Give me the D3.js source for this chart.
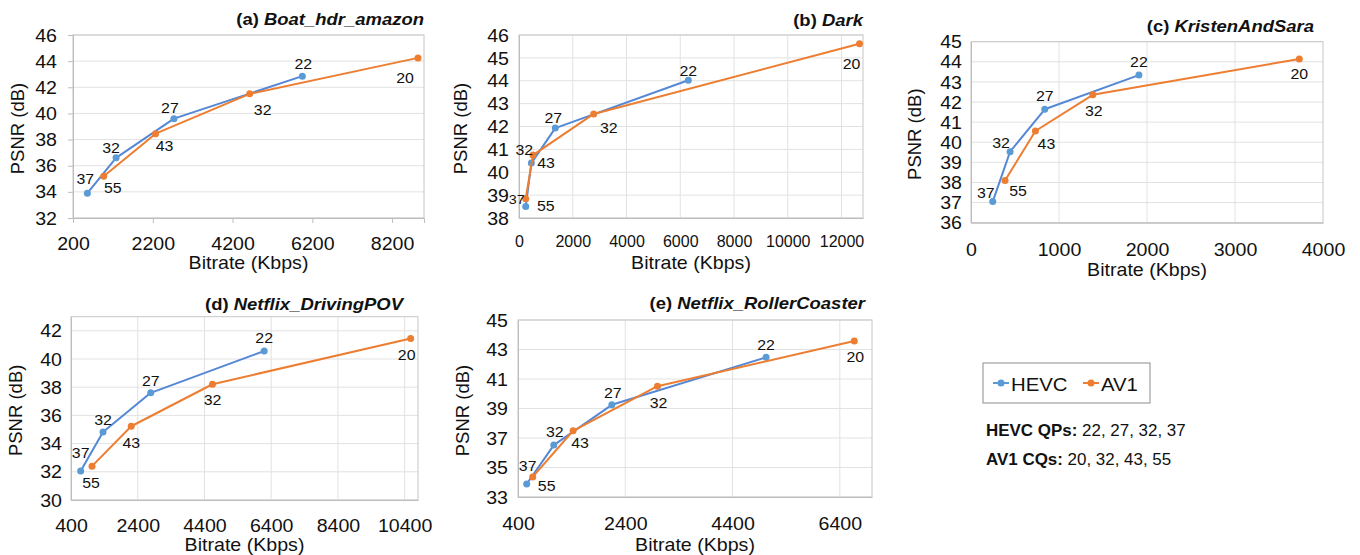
<!DOCTYPE html>
<html>
<head>
<meta charset="utf-8">
<script src="https://cdnjs.cloudflare.com/ajax/libs/d3/7.8.5/d3.min.js"></script>
<style>
  body { margin: 0; background: #fff; }
  svg { display: block; font-family: "Liberation Sans", Arial, Helvetica, sans-serif; }
</style>
</head>
<body>
<svg id="chart" width="1360" height="555"></svg>
<script>
// ---- data ----
var seriesNames = ['HEVC', 'AV1'];
var hevcQPs = [37, 32, 27, 22];
var av1CQs = [55, 43, 32, 20];

var boatHevcRate = [560, 1280, 2730, 5950];
var boatHevcPsnr = [33.9, 36.6, 39.6, 42.85];
var boatAv1Rate = [970, 2270, 4630, 8850];
var boatAv1Psnr = [35.2, 38.45, 41.5, 44.25];
var boatXTicks = [200, 2200, 4200, 6200, 8200];
var boatYTicks = [32, 34, 36, 38, 40, 42, 44, 46];
var boatXDomain = [200, 9000];
var boatYDomain = [32, 46];

var darkHevcRate = [250, 460, 1350, 6300];
var darkHevcPsnr = [38.5, 40.4, 41.93, 44.02];
var darkAv1Rate = [250, 520, 2780, 12670];
var darkAv1Psnr = [38.84, 40.75, 42.55, 45.62];
var darkXTicks = [0, 2000, 4000, 6000, 8000, 10000, 12000];
var darkYTicks = [38, 39, 40, 41, 42, 43, 44, 45, 46];
var darkXDomain = [0, 12800];
var darkYDomain = [38, 46];

var kristenHevcRate = [247, 444, 838, 1908];
var kristenHevcPsnr = [37.05, 39.53, 41.64, 43.34];
var kristenAv1Rate = [387, 732, 1384, 3731];
var kristenAv1Psnr = [38.1, 40.56, 42.36, 44.14];
var kristenXTicks = [0, 1000, 2000, 3000, 4000];
var kristenYTicks = [36, 37, 38, 39, 40, 41, 42, 43, 44, 45];
var kristenXDomain = [0, 4000];
var kristenYDomain = [36, 45];

var drivingHevcRate = [690, 1360, 2790, 6190];
var drivingHevcPsnr = [32.05, 34.82, 37.6, 40.57];
var drivingAv1Rate = [1030, 2205, 4640, 10580];
var drivingAv1Psnr = [32.4, 35.23, 38.21, 41.46];
var drivingXTicks = [400, 2400, 4400, 6400, 8400, 10400];
var drivingYTicks = [30, 32, 34, 36, 38, 40, 42];
var drivingXDomain = [400, 10800];
var drivingYDomain = [30, 43];

var rollerHevcRate = [562, 1067, 2150, 5025];
var rollerHevcPsnr = [33.88, 36.52, 39.25, 42.47];
var rollerAv1Rate = [674, 1427, 3000, 6670];
var rollerAv1Psnr = [34.36, 37.49, 40.51, 43.58];
var rollerXTicks = [400, 2400, 4400, 6400];
var rollerYTicks = [33, 35, 37, 39, 41, 43, 45];
var rollerXDomain = [400, 7000];
var rollerYDomain = [33, 45];

// ---- layout ----
var BLUE = '#5b9bd5', BLUE_LINE = '#5488d6', ORANGE = '#ed7d31';
var SX = 1.12; // the figure's text is a little wider than it is tall

var panels = [
  { tag: '(a)', name: 'Boat_hdr_amazon', left: 73, right: 424, top: 35, bottom: 218,
    xDomain: boatXDomain, yDomain: boatYDomain, xTicks: boatXTicks, yTicks: boatYTicks,
    hevc: [boatHevcRate, boatHevcPsnr], av1: [boatAv1Rate, boatAv1Psnr],
    vgrid: false, ticks: true, xLabOff: 32, xFont: 17.5, xSx: SX, yGap: 16,
    titleRight: 424, titleBase: 25, xTitleBase: 269, yTitleX: 24,
    hevcOff: [[-2, -9], [-5, -5], [-4, -6], [1, -7]],
    av1Off: [[9, 17], [9, 17], [13, 21], [-13, 25]] },
  { tag: '(b)', name: 'Dark', left: 519, right: 863, top: 35, bottom: 218,
    xDomain: darkXDomain, yDomain: darkYDomain, xTicks: darkXTicks, yTicks: darkYTicks,
    hevc: [darkHevcRate, darkHevcPsnr], av1: [darkAv1Rate, darkAv1Psnr],
    vgrid: true, ticks: false, xLabOff: 29, xFont: 16, xSx: 1.0, yGap: 10,
    titleRight: 863, titleBase: 26, xTitleBase: 269, yTitleX: 467,
    hevcOff: [[-9, -3], [-7, -8], [-2, -5], [0, -4]],
    av1Off: [[20, 12], [13, 13], [15, 19], [-8, 25]] },
  { tag: '(c)', name: 'KristenAndSara', left: 971, right: 1323, top: 41.7, bottom: 222.7,
    xDomain: kristenXDomain, yDomain: kristenYDomain, xTicks: kristenXTicks, yTicks: kristenYTicks,
    hevc: [kristenHevcRate, kristenHevcPsnr], av1: [kristenAv1Rate, kristenAv1Psnr],
    vgrid: true, ticks: false, xLabOff: 33, xFont: 17.5, xSx: SX, yGap: 9,
    titleRight: 1314, titleBase: 32, xTitleBase: 276, yTitleX: 921,
    hevcOff: [[-7, -4], [-9, -4], [0, -8], [0, -8]],
    av1Off: [[13, 16], [11, 18], [1, 21], [0, 20]] },
  { tag: '(d)', name: 'Netflix_DrivingPOV', left: 71, right: 418, top: 316.7, bottom: 500,
    xDomain: drivingXDomain, yDomain: drivingYDomain, xTicks: drivingXTicks, yTicks: drivingYTicks,
    hevc: [drivingHevcRate, drivingHevcPsnr], av1: [drivingAv1Rate, drivingAv1Psnr],
    vgrid: true, ticks: false, xLabOff: 32, xFont: 17.5, xSx: SX, yGap: 9,
    titleRight: 403, titleBase: 310, xTitleBase: 551, yTitleX: 22,
    hevcOff: [[0, -13], [0, -7], [0, -7], [0, -8]],
    av1Off: [[-1, 22], [0, 22], [0, 21], [-4, 22]] },
  { tag: '(e)', name: 'Netflix_RollerCoaster', left: 518, right: 872, top: 320, bottom: 497,
    xDomain: rollerXDomain, yDomain: rollerYDomain, xTicks: rollerXTicks, yTicks: rollerYTicks,
    hevc: [rollerHevcRate, rollerHevcPsnr], av1: [rollerAv1Rate, rollerAv1Psnr],
    vgrid: true, ticks: false, xLabOff: 33, xFont: 17.5, xSx: SX, yGap: 10,
    titleRight: 865, titleBase: 309, xTitleBase: 551, yTitleX: 469,
    hevcOff: [[1, -13], [1, -8], [1, -7], [0, -7]],
    av1Off: [[14, 14], [7, 17], [1, 22], [1, 21]] }
];

var svg = d3.select('#chart');

function drawPanel(p) {
  var g = svg.append('g');
  var x = d3.scaleLinear().domain(p.xDomain).range([p.left, p.right]);
  var y = d3.scaleLinear().domain(p.yDomain).range([p.bottom, p.top]);

  // grid
  g.append('g').selectAll('line').data(p.yTicks).join('line')
    .attr('x1', p.left).attr('x2', p.right)
    .attr('y1', function(d) { return y(d); }).attr('y2', function(d) { return y(d); })
    .attr('stroke', '#e2e2e2').attr('stroke-width', 1);
  if (p.vgrid) {
    g.append('g').selectAll('line').data(p.xTicks.filter(function(d) { return x(d) > p.left + 1 && x(d) < p.right - 1; })).join('line')
      .attr('x1', function(d) { return x(d); }).attr('x2', function(d) { return x(d); })
      .attr('y1', p.top).attr('y2', p.bottom)
      .attr('stroke', '#e2e2e2').attr('stroke-width', 1);
  }
  g.append('rect')
    .attr('x', p.left).attr('y', p.top)
    .attr('width', p.right - p.left).attr('height', p.bottom - p.top)
    .attr('fill', 'none').attr('stroke', '#c6c6c6').attr('stroke-width', 1);

  // axes
  var tl = p.ticks ? 5 : 0;
  var xa = g.append('g').attr('transform', 'translate(0,' + p.bottom + ')')
    .call(d3.axisBottom(x).tickValues(p.xTicks).tickSize(tl).tickFormat(d3.format('d')));
  xa.attr('font-family', null).attr('font-size', null);
  xa.select('.domain').attr('stroke', '#bdbdbd');
  xa.selectAll('.tick line').attr('stroke', '#bdbdbd');
  xa.selectAll('.tick text')
    .attr('y', p.xLabOff).attr('dy', null)
    .attr('font-size', p.xFont).attr('fill', '#111')
    .attr('transform', 'scale(' + p.xSx + ',1)');

  var ya = g.append('g').attr('transform', 'translate(' + p.left + ',0)')
    .call(d3.axisLeft(y).tickValues(p.yTicks).tickSize(tl).tickFormat(d3.format('d')));
  ya.attr('font-family', null).attr('font-size', null);
  ya.select('.domain').attr('stroke', '#bdbdbd');
  ya.selectAll('.tick line').attr('stroke', '#bdbdbd');
  ya.selectAll('.tick text')
    .attr('x', -p.yGap / SX).attr('dy', '0.35em')
    .attr('font-size', 17.5).attr('fill', '#111')
    .attr('transform', 'scale(' + SX + ',1)');

  // titles
  var t = g.append('text')
    .attr('transform', 'translate(' + p.titleRight + ',' + p.titleBase + ') scale(' + SX + ',1)')
    .attr('text-anchor', 'end').attr('font-size', 16.5).attr('font-weight', 'bold').attr('fill', '#111');
  t.append('tspan').text(p.tag + ' ');
  t.append('tspan').attr('font-style', 'italic').text(p.name);

  g.append('text')
    .attr('transform', 'translate(' + ((p.left + p.right) / 2) + ',' + p.xTitleBase + ') scale(1.09,1)')
    .attr('text-anchor', 'middle').attr('font-size', 18).attr('fill', '#111')
    .text('Bitrate (Kbps)');
  g.append('text')
    .attr('transform', 'translate(' + p.yTitleX + ',' + ((p.top + p.bottom) / 2 + 2) + ') rotate(-90)')
    .attr('text-anchor', 'middle').attr('font-size', 18.5).attr('fill', '#111')
    .text('PSNR (dB)');

  // series
  var series = [
    { pts: d3.zip(p.hevc[0], p.hevc[1]), line: BLUE_LINE, dot: BLUE, labels: hevcQPs, off: p.hevcOff },
    { pts: d3.zip(p.av1[0], p.av1[1]), line: ORANGE, dot: ORANGE, labels: av1CQs, off: p.av1Off }
  ];
  var line = d3.line().x(function(d) { return x(d[0]); }).y(function(d) { return y(d[1]); });
  series.forEach(function(s) {
    g.append('path').datum(s.pts)
      .attr('d', line).attr('fill', 'none')
      .attr('stroke', s.line).attr('stroke-width', 2).attr('stroke-linejoin', 'round');
    g.append('g').selectAll('circle').data(s.pts).join('circle')
      .attr('cx', function(d) { return x(d[0]); })
      .attr('cy', function(d) { return y(d[1]); })
      .attr('r', 3.5).attr('fill', s.dot);
  });
  series.forEach(function(s) {
    g.append('g').selectAll('text').data(s.pts).join('text')
      .attr('transform', function(d, i) {
        return 'translate(' + (x(d[0]) + s.off[i][0]) + ',' + (y(d[1]) + s.off[i][1]) + ') scale(1.06,1)';
      })
      .attr('text-anchor', 'middle').attr('font-size', function(d, i) { return p.tag === '(b)' && s.labels === hevcQPs && i === 0 ? 13.5 : 15; })
      .attr('fill', '#111')
      .text(function(d, i) { return s.labels[i]; });
  });
}

panels.forEach(drawPanel);

// legend
var lg = svg.append('g');
lg.append('rect').attr('x', 983).attr('y', 363).attr('width', 167).attr('height', 40)
  .attr('fill', '#fff').attr('stroke', '#8c8c8c').attr('stroke-width', 1);
var legendItems = [
  { name: seriesNames[0], color: BLUE, x: 993 },
  { name: seriesNames[1], color: ORANGE, x: 1083 }
];
legendItems.forEach(function(it) {
  lg.append('line').attr('x1', it.x).attr('x2', it.x + 16).attr('y1', 383).attr('y2', 383)
    .attr('stroke', it.color).attr('stroke-width', 2);
  lg.append('circle').attr('cx', it.x + 8).attr('cy', 383).attr('r', 3.5).attr('fill', it.color);
  lg.append('text')
    .attr('transform', 'translate(' + (it.x + 18) + ',391) scale(1.1,1)')
    .attr('font-size', 18.5).attr('fill', '#111').text(it.name);
});

var notes = [
  { head: 'HEVC QPs:', vals: hevcQPs.slice().reverse(), base: 436 },
  { head: 'AV1 CQs:', vals: av1CQs.slice().reverse(), base: 465 }
];
notes.forEach(function(n) {
  var t = svg.append('text')
    .attr('transform', 'translate(986,' + n.base + ') scale(1.06,1)')
    .attr('font-size', 16).attr('fill', '#111');
  t.append('tspan').attr('font-weight', 'bold').text(n.head);
  t.append('tspan').text(' ' + n.vals.join(', '));
});
</script>
</body>
</html>
